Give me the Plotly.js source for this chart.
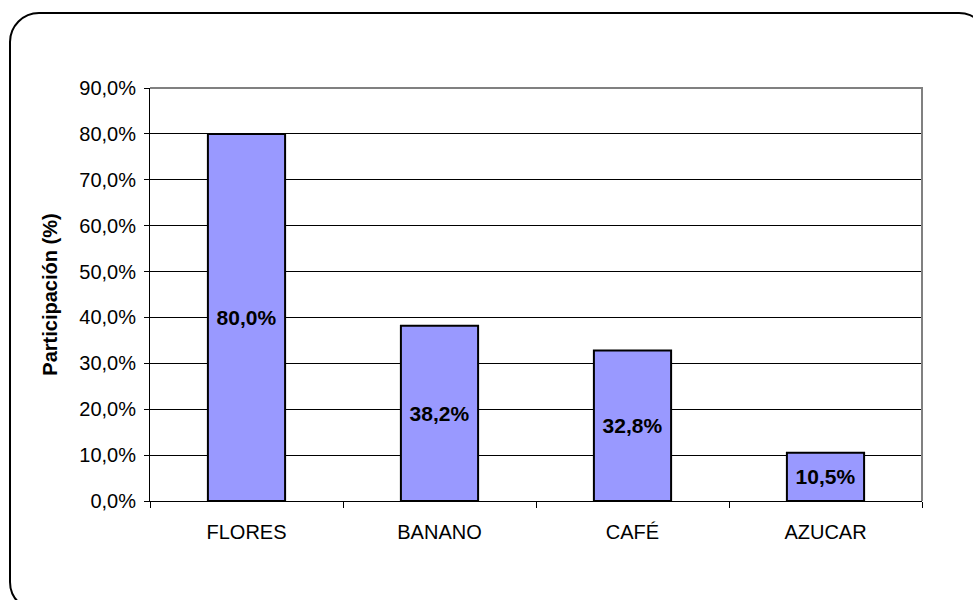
<!DOCTYPE html>
<html>
<head>
<meta charset="utf-8">
<script src="https://cdn.plot.ly/plotly-3.0.1.min.js"></script>
<style>
  html, body { margin: 0; padding: 0; background: #fff; overflow: hidden; }
  #frame {
    position: absolute; left: 9px; top: 12px; width: 980px; height: 600px;
    border: 2px solid #000; border-radius: 30px; box-sizing: border-box;
  }
  #chart { position: absolute; left: 0; top: 0; width: 973px; height: 600px; }
</style>
</head>
<body>
<div id="frame"></div>
<div id="chart"></div>
<script>
// Participación por producto (%)
const categories = ['FLORES', 'BANANO', 'CAFÉ', 'AZUCAR'];
const participacion = [80.0, 38.2, 32.8, 10.5];
const yTickVals = [0, 10, 20, 30, 40, 50, 60, 70, 80, 90];
const yTickText = ['0,0%', '10,0%', '20,0%', '30,0%', '40,0%', '50,0%', '60,0%', '70,0%', '80,0%', '90,0%'];

const FONT = 'Liberation Sans, Arial, sans-serif';

const trace = {
  type: 'bar',
  x: categories,
  y: participacion,
  width: 0.4,
  marker: { color: '#9999FF', line: { color: '#000', width: 2 } },
  texttemplate: '%{y:.1f}%',
  textposition: 'inside',
  insidetextanchor: 'middle',
  textangle: 0,
  constraintext: 'none',
  textfont: { family: FONT, size: 21, color: '#000', weight: 'bold' },
  hoverinfo: 'skip'
};

const layout = {
  width: 973, height: 600,
  margin: { l: 150, r: 51, t: 88, b: 99 },
  paper_bgcolor: 'rgba(0,0,0,0)',
  plot_bgcolor: '#fff',
  separators: ',.',
  showlegend: false,
  font: { family: FONT, size: 20, color: '#000' },
  xaxis: {
    type: 'category',
    tickson: 'boundaries',
    ticks: 'outside', ticklen: 6, tickcolor: '#000', tickwidth: 1,
    showline: true, linecolor: '#000', linewidth: 1,
    showgrid: false,
    ticklabelstandoff: 13,
    tickfont: { size: 20 }
  },
  yaxis: {
    range: [0, 90],
    tickvals: yTickVals,
    ticktext: yTickText,
    ticks: 'outside', ticklen: 5, tickcolor: '#000', tickwidth: 1,
    showline: true, linecolor: '#000', linewidth: 1,
    showgrid: true, gridcolor: '#000', gridwidth: 1,
    zeroline: false,
    ticklabelstandoff: 4,
    tickfont: { size: 20 },
    title: { text: 'Participación (%)', font: { size: 20, weight: 'bold' }, standoff: 16 }
  },
  shapes: [
    { type: 'path', xref: 'paper', yref: 'paper', path: 'M0,1 H1 V0',
      line: { color: '#808080', width: 2 }, layer: 'above' }
  ]
};

Plotly.newPlot('chart', [trace], layout, { displayModeBar: false, staticPlot: true });
</script>
</body>
</html>
